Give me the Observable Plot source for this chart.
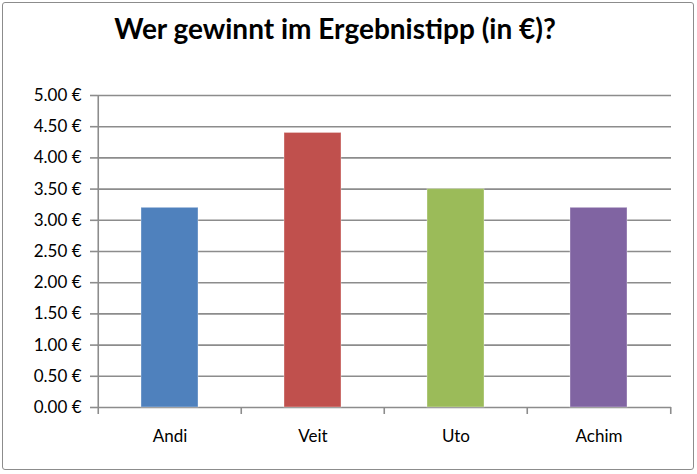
<!DOCTYPE html>
<html><head><meta charset="utf-8">
<script src="https://cdn.jsdelivr.net/npm/d3@7"></script>
<script src="https://cdn.jsdelivr.net/npm/@observablehq/plot@0.6"></script>
<style>
body{margin:0;background:#fff;}
#wrap{position:relative;width:697px;height:474px;overflow:hidden;font-family:Lato,"Open Sans",sans-serif;}
#border{position:absolute;left:2px;top:2px;width:690px;height:466px;border:1.5px solid #8c8c8c;border-radius:3px;}
#title{position:absolute;left:0;top:11px;width:670px;text-align:center;font-weight:bold;font-size:28px;line-height:34px;color:#000;}
#chart{position:absolute;left:0;top:70px;}
</style></head>
<body><div id="wrap"><div id="border"></div><div id="title">Wer gewinnt im Ergebnistipp (in €)?</div><div id="chart"></div></div>
<script>
const categories = ["Andi", "Veit", "Uto", "Achim"];
const values = [3.20, 4.40, 3.50, 3.20];
const colors = ["#4F81BD", "#C0504D", "#9BBB59", "#8064A2"];
const yTicks = [0, 0.5, 1, 1.5, 2, 2.5, 3, 3.5, 4, 4.5, 5];

const data = categories.map((c, i) => ({name: c, value: values[i], color: colors[i]}));
const W = 697, H = 404, mL = 97, mR = 26, mT = 25, mB = 67;
const step = (W - mL - mR) / categories.length;
const gridColor = "#8c8c8c";

const plot = Plot.plot({
  width: W, height: H,
  marginLeft: mL, marginRight: mR, marginTop: mT, marginBottom: mB,
  style: {fontFamily: "Lato, 'Open Sans', sans-serif", color: "#000", background: "transparent"},
  x: {type: "band", domain: categories, paddingInner: 0.6, paddingOuter: 0.3, label: null},
  y: {domain: [0, 5], label: null},
  marks: [
    Plot.ruleY(yTicks, {stroke: gridColor, strokeWidth: 1.6, strokeOpacity: 1}),
    Plot.barY(data, {x: "name", y: "value", fill: "color", stroke: "#ffffff", strokeOpacity: 0.35, strokeWidth: 1}),
    Plot.axisY({ticks: yTicks, tickFormat: d => d.toFixed(2) + " €", tickSize: 7, tickPadding: 9, fontSize: 17, stroke: gridColor, strokeWidth: 1.6, color: "#000"}),
    Plot.ruleX(categories, {x: d => d, y1: 0, y2: -0.112, dx: -step / 2, stroke: gridColor, strokeWidth: 1.6}),
    Plot.ruleX(categories.slice(-1), {x: d => d, y1: 0, y2: -0.112, dx: step / 2, stroke: gridColor, strokeWidth: 1.6}),
    Plot.ruleX(categories.slice(0, 1), {x: d => d, y1: 0, y2: 5, dx: -step / 2, stroke: gridColor, strokeWidth: 1.6}),
    Plot.axisX({tickSize: 0, tickPadding: 22, fontSize: 17, color: "#000"})
  ]
});
document.getElementById("chart").appendChild(plot);
</script></body></html>
